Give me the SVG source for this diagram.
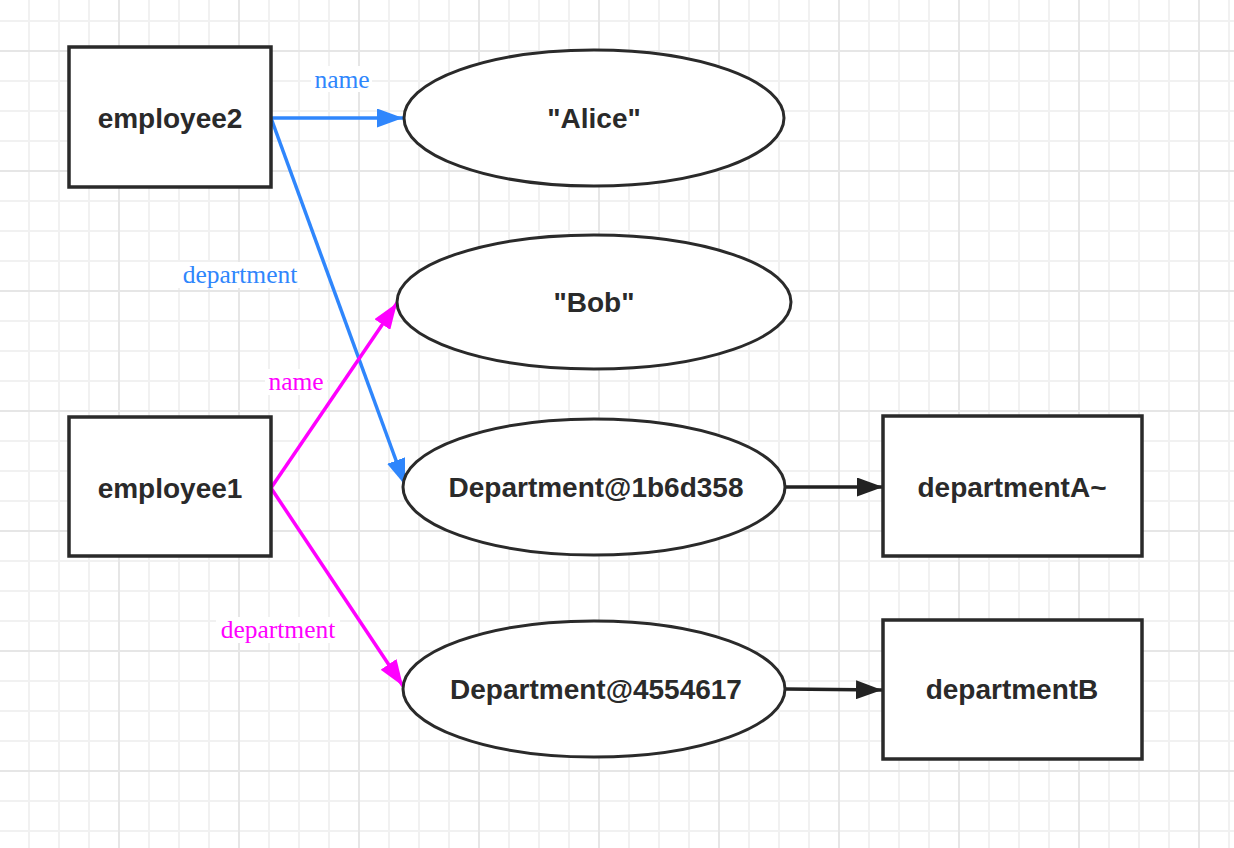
<svg xmlns="http://www.w3.org/2000/svg" width="1234" height="848" viewBox="0 0 1234 848">
<style>
.box{fill:#fff;stroke:#2a2a2a;stroke-width:3.5}
.ell{fill:#fff;stroke:#2a2a2a;stroke-width:3}
.t{font-family:"Liberation Sans",Arial,sans-serif;font-weight:bold;font-size:28px;fill:#2a2a2a;text-anchor:middle}
.lbl{font-family:"Liberation Serif","Times New Roman",serif;font-size:25.5px;text-anchor:middle}
.lb{fill:#fff}
.blue{stroke:#2f86fc;fill:none;stroke-width:3.5}
.mag{stroke:#ff00ff;fill:none;stroke-width:3.5}
.blk{stroke:#222;fill:none;stroke-width:3.5}
</style>
<defs>
<pattern id="minor" patternUnits="userSpaceOnUse" x="28" y="20" width="30" height="30">
<rect x="0" y="0" width="2" height="30" fill="#f1f1f1"/>
<rect x="0" y="0" width="30" height="2" fill="#f1f1f1"/>
</pattern>
<pattern id="major" patternUnits="userSpaceOnUse" x="118" y="50" width="120" height="120">
<rect x="0" y="0" width="2" height="120" fill="#e6e6e6"/>
<rect x="0" y="0" width="120" height="2" fill="#e6e6e6"/>
</pattern>
<marker id="aBlue" markerUnits="userSpaceOnUse" markerWidth="27" markerHeight="19" refX="26" refY="9.5" orient="auto"><path d="M0,0 L26,9.5 L0,19 z" fill="#2f86fc"/></marker>
<marker id="aMag" markerUnits="userSpaceOnUse" markerWidth="27" markerHeight="19" refX="26" refY="9.5" orient="auto"><path d="M0,0 L26,9.5 L0,19 z" fill="#ff00ff"/></marker>
<marker id="aBlk" markerUnits="userSpaceOnUse" markerWidth="27" markerHeight="19" refX="26" refY="9.5" orient="auto"><path d="M0,0 L26,9.5 L0,19 z" fill="#222"/></marker>
</defs>
<rect width="1234" height="848" fill="#fff"/>
<rect width="1234" height="848" fill="url(#minor)"/>
<rect width="1234" height="848" fill="url(#major)"/>

<g id="connectors">
<line class="blue" x1="271" y1="118" x2="403" y2="118" marker-end="url(#aBlue)"/>
<line class="blue" x1="271" y1="118" x2="405" y2="485" marker-end="url(#aBlue)"/>
<line class="mag" x1="271" y1="488" x2="397" y2="303" marker-end="url(#aMag)"/>
<line class="mag" x1="271" y1="488" x2="403" y2="686" marker-end="url(#aMag)"/>
<line class="blk" x1="786" y1="487" x2="883" y2="487" marker-end="url(#aBlk)"/>
<line class="blk" x1="786" y1="689" x2="882" y2="690" marker-end="url(#aBlk)"/>
<rect class="lb" x="311" y="66" width="61" height="26"/>
<text class="lbl" x="342" y="88" fill="#2f86fc">name</text>
<rect class="lb" x="178" y="262" width="124" height="26"/>
<text class="lbl" x="240" y="283" fill="#2f86fc">department</text>
<rect class="lb" x="265" y="369" width="62" height="26"/>
<text class="lbl" x="296" y="390" fill="#ff00ff">name</text>
<rect class="lb" x="216" y="617" width="124" height="26"/>
<text class="lbl" x="278" y="638" fill="#ff00ff">department</text>
</g>

<g id="employee2"><rect class="box" x="69" y="47" width="202" height="140"/><text class="t" x="170" y="128">employee2</text></g>
<g id="employee1"><rect class="box" x="69" y="417" width="202" height="139"/><text class="t" x="170" y="498">employee1</text></g>
<g id="alice"><ellipse class="ell" cx="594" cy="118" rx="190" ry="68"/><text class="t" x="594" y="128">"Alice"</text></g>
<g id="bob"><ellipse class="ell" cx="594" cy="302" rx="197" ry="67"/><text class="t" x="594" y="312">"Bob"</text></g>
<g id="dept1"><ellipse class="ell" cx="594" cy="487" rx="191" ry="68"/><text class="t" x="596" y="497">Department@1b6d358</text></g>
<g id="dept2"><ellipse class="ell" cx="594" cy="689" rx="191" ry="68"/><text class="t" x="596" y="699">Department@4554617</text></g>
<g id="departmentA"><rect class="box" x="883" y="416" width="259" height="140"/><text class="t" x="1012" y="497">departmentA~</text></g>
<g id="departmentB"><rect class="box" x="883" y="620" width="259" height="139"/><text class="t" x="1012" y="699">departmentB</text></g>
</svg>
